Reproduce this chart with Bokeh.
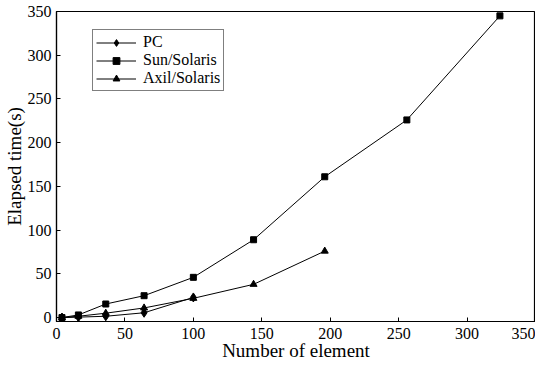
from bokeh.plotting import figure
from bokeh.models import Range1d, Legend, LegendItem, FixedTicker
from bokeh.embed import file_html
from bokeh.resources import INLINE

x_pc = [4, 16, 36, 64, 100]
y_pc = [0, 0.5, 1.5, 5.5, 23]
x_sun = [4, 16, 36, 64, 100, 144, 196, 256, 324]
y_sun = [0, 3, 15.5, 25, 46, 89, 161, 226, 345]
x_axil = [4, 16, 36, 64, 100, 144, 196]
y_axil = [0, 1.5, 5, 11, 22, 38, 76]
x_ticks = [0, 50, 100, 150, 200, 250, 300, 350]
y_ticks = [0, 50, 100, 150, 200, 250, 300, 350]

FONT = "Liberation Serif"

p = figure(width=535, height=363, output_backend="svg", toolbar_location=None,
           x_range=Range1d(0, 350), y_range=Range1d(-4.5, 350),
           min_border_left=48, min_border_right=0, min_border_top=11, min_border_bottom=30)
p.xgrid.visible = False
p.ygrid.visible = False
p.outline_line_color = "black"
p.outline_line_width = 1.2
p.background_fill_color = "white"
p.border_fill_color = "white"

for ax, ticks in ((p.xaxis[0], x_ticks), (p.yaxis[0], y_ticks)):
    ax.ticker = FixedTicker(ticks=ticks)
    ax.major_tick_in = 4
    ax.major_tick_out = 0
    ax.minor_tick_line_color = None
    ax.axis_line_color = "black"
    ax.axis_line_width = 1.2
    ax.major_label_text_font = FONT
    ax.major_label_text_font_size = "16px"
    ax.major_label_text_color = "black"
    ax.axis_label_text_font = FONT
    ax.axis_label_text_font_size = "19px"
    ax.axis_label_text_font_style = "normal"
    ax.axis_label_text_color = "black"

p.xaxis.axis_label = "Number of element"
p.yaxis.axis_label = "Elapsed time(s)"
p.xaxis.major_label_standoff = 6
p.yaxis.major_label_standoff = 5
p.xaxis.axis_label_standoff = -2
p.yaxis.axis_label_standoff = 0

l1 = p.line(x_pc, y_pc, line_color="black", line_width=1)
m1 = p.scatter(x_pc, y_pc, marker="diamond", size=9, color="black")
l2 = p.line(x_sun, y_sun, line_color="black", line_width=1)
m2 = p.scatter(x_sun, y_sun, marker="square", size=6, color="black")
l3 = p.line(x_axil, y_axil, line_color="black", line_width=1)
m3 = p.scatter(x_axil, y_axil, marker="triangle", size=7, color="black")

legend = Legend(items=[
    LegendItem(label="PC", renderers=[l1, m1]),
    LegendItem(label="Sun/Solaris", renderers=[l2, m2]),
    LegendItem(label="Axil/Solaris", renderers=[l3, m3]),
], location=(36, 230))
legend.label_text_font = FONT
legend.label_text_font_size = "16px"
legend.label_text_color = "black"
legend.border_line_color = "black"
legend.border_line_width = 1
legend.padding = 3
legend.spacing = 0
legend.glyph_height = 17
legend.glyph_width = 40
legend.label_standoff = 7
legend.margin = 0
legend.background_fill_alpha = 1
p.add_layout(legend)

open("out.html", "w").write(file_html(p, INLINE))
